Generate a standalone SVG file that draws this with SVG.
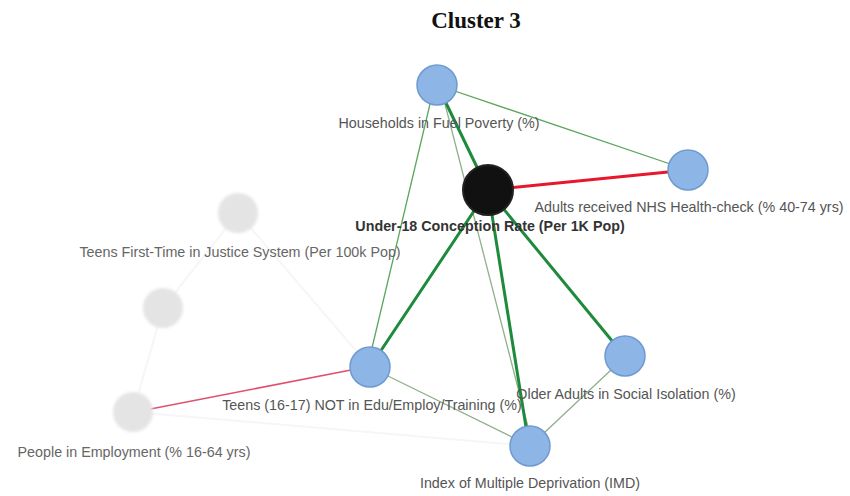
<svg xmlns="http://www.w3.org/2000/svg" width="850" height="496" viewBox="0 0 850 496">
<defs>
<style>
.lbl{font-family:"Liberation Sans",Arial,sans-serif;font-size:14.3px;fill:#555;text-anchor:middle}
.lblf{font-family:"Liberation Sans",Arial,sans-serif;font-size:14.3px;fill:#666;text-anchor:middle}
.bold{font-family:"Liberation Sans",Arial,sans-serif;font-size:14.3px;font-weight:bold;fill:#333;text-anchor:middle}
.title{font-family:"Liberation Serif","Times New Roman",serif;font-size:23px;font-weight:bold;fill:#111;text-anchor:middle}
.blue{fill:#8db5e6;stroke:#6f9ad0;stroke-width:1.5}
.gray{fill:#e4e4e4;filter:url(#blur)}
.thin{stroke:#5aa65a;stroke-width:1.3;fill:none}
.thinG{stroke:#8fb08a;stroke-width:1.3;fill:none}
.thick{stroke:#1e8a3c;stroke-width:3;fill:none}
.red{stroke:#e8182c;stroke-width:3;fill:none}
.pink{stroke:#e0506e;stroke-width:1.5;fill:none}
.faint{stroke:#f6f6f6;stroke-width:2;fill:none}
</style>
<filter id="blur" x="-20%" y="-20%" width="140%" height="140%"><feGaussianBlur stdDeviation="1.5"/></filter>
</defs>
<rect width="850" height="496" fill="#fff"/>
<text class="title" x="476" y="28">Cluster 3</text>
<g id="connectors">
<path class="faint" d="M238 213L163 308L133 412"/>
<path class="faint" d="M238 213L370 367"/>
<path class="faint" d="M133 412L530 446"/>
<path class="thin" d="M437 85L688 170"/>
<path class="thin" d="M430 104L372 348"/>
<path class="thinG" d="M445 104L528 427"/>
<path class="thick" d="M446 103L488 190"/>
<path class="red" d="M488 190L668 172"/>
<path class="thick" d="M488 190L380 352"/>
<path class="thick" d="M488 190L613 342"/>
<path class="thick" d="M488 190L526 427"/>
<path class="thinG" d="M388 376L514 438"/>
<path class="thinG" d="M611 370L544 433"/>
<path class="pink" d="M351 370L135 412"/>
</g>
<g id="n-justice"><circle class="gray" cx="238" cy="213" r="20"/><text class="lblf" x="240" y="257">Teens First-Time in Justice System (Per 100k Pop)</text></g>
<g id="n-gray2"><circle class="gray" cx="163" cy="308" r="20"/></g>
<g id="n-employment"><circle class="gray" cx="133" cy="412" r="20"/><text class="lblf" x="134" y="457">People in Employment (% 16-64 yrs)</text></g>
<g id="n-households"><circle class="blue" cx="437" cy="85" r="20"/><text class="lbl" x="439" y="128">Households in Fuel Poverty (%)</text></g>
<g id="n-nhs"><circle class="blue" cx="688" cy="170" r="20"/><text class="lbl" x="689" y="212">Adults received NHS Health-check (% 40-74 yrs)</text></g>
<g id="n-neet"><circle class="blue" cx="370" cy="367" r="20"/><text class="lbl" x="372" y="410">Teens (16-17) NOT in Edu/Employ/Training (%)</text></g>
<g id="n-older"><circle class="blue" cx="625" cy="356" r="20"/><text class="lbl" x="626" y="399">Older Adults in Social Isolation (%)</text></g>
<g id="n-imd"><circle class="blue" cx="530" cy="446" r="20"/><text class="lbl" x="530" y="488">Index of Multiple Deprivation (IMD)</text></g>
<g id="n-under18"><circle cx="488" cy="190" r="25" fill="#111" stroke="#222" stroke-width="2"/><text class="bold" x="490" y="231">Under-18 Conception Rate (Per 1K Pop)</text></g>
</svg>
